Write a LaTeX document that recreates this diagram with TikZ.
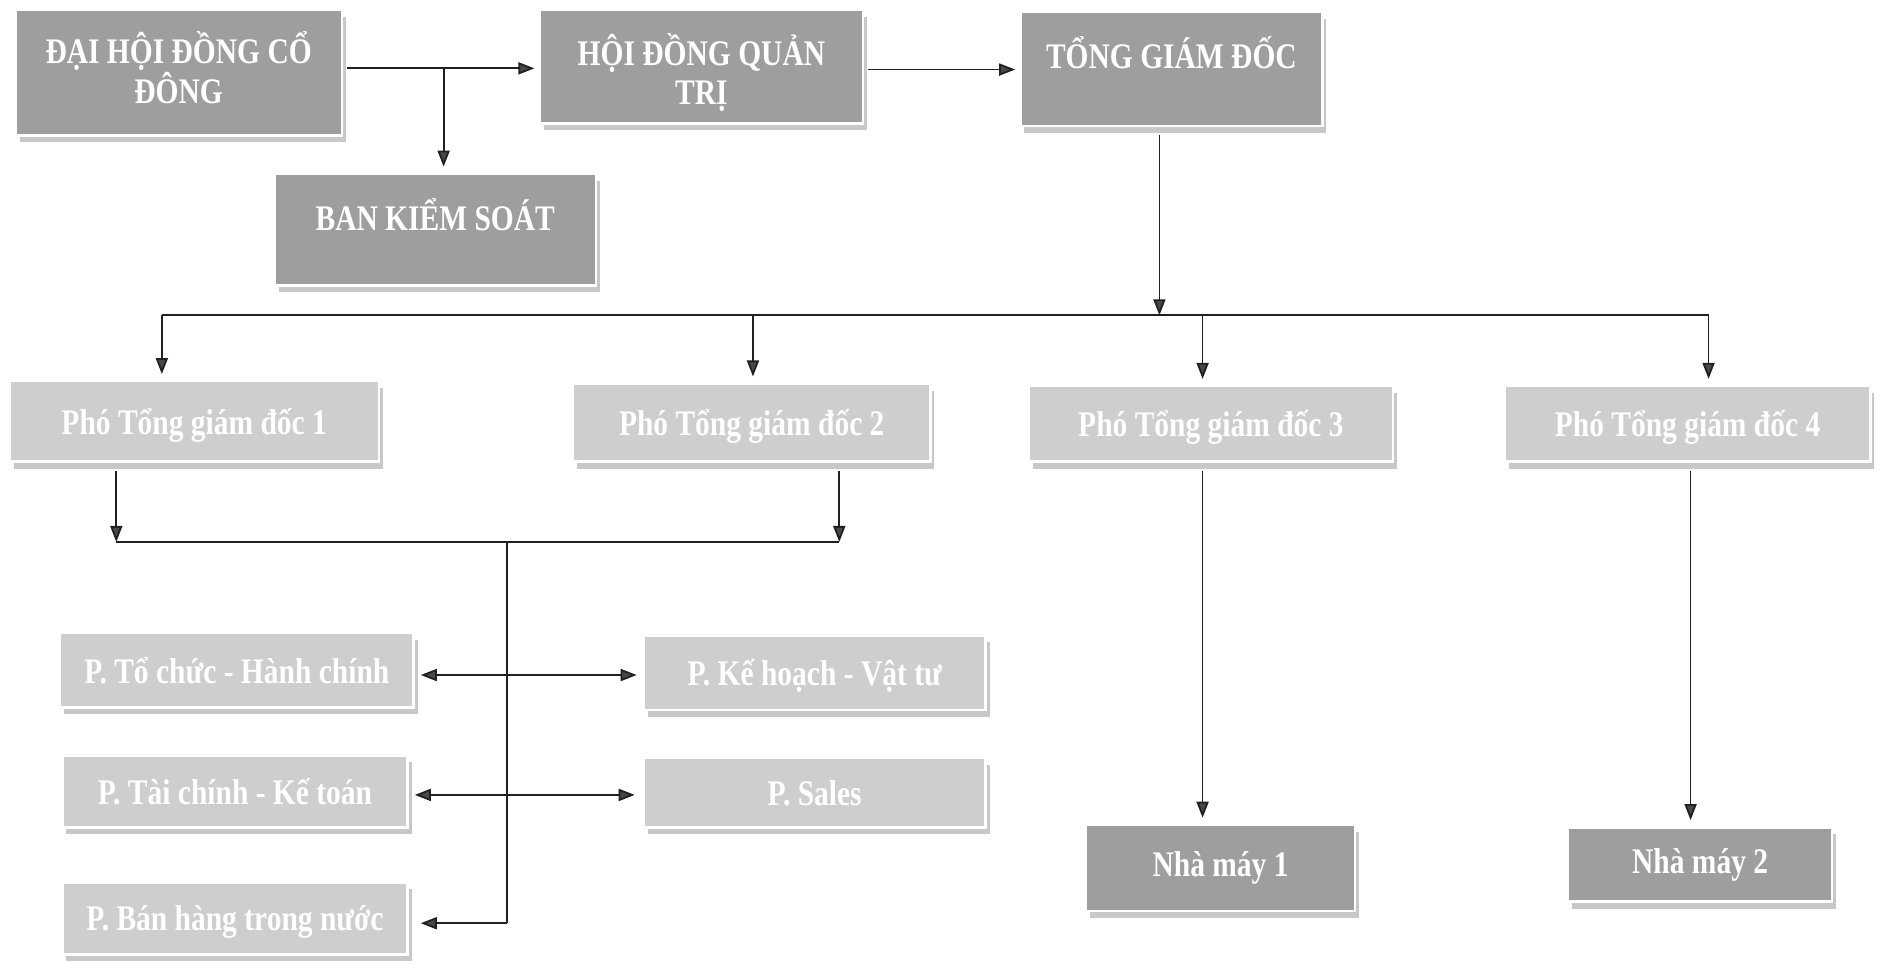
\documentclass[tikz,border=0pt]{standalone}
\usepackage{fontspec}
\setmainfont{Liberation Serif}[FakeStretch=0.82]
\usetikzlibrary{arrows.meta,shadows}
\definecolor{darkbox}{HTML}{9E9E9E}
\definecolor{lightbox}{HTML}{CECECE}
\definecolor{shadowcol}{HTML}{C8C8C8}
\definecolor{tipcol}{HTML}{484848}
\definecolor{linecol}{HTML}{202020}
\begin{document}
\begin{tikzpicture}[x=0.6pt,y=-0.6pt,
  boxbase/.style={rectangle, inner sep=0pt, draw=white, line width=1.2pt, text=white, align=center,
    font=\bfseries\fontsize{18}{20}\selectfont,
    general shadow={fill=shadowcol, shadow xshift=2pt, shadow yshift=-3.5pt}},
  darkb/.style={boxbase, fill=darkbox},
  lightb/.style={boxbase, fill=lightbox, text depth=0pt},
  conn/.style={draw=linecol, line width=0.9pt},
  arr/.style={conn, -{Triangle[length=8pt,width=6pt,fill=tipcol]}},
  darr/.style={conn, {Triangle[length=8pt,width=6pt,fill=tipcol]}-{Triangle[length=8pt,width=6pt,fill=tipcol]}}
]
\useasboundingbox (0,0) rectangle (1568,804);

% top row
\node[darkb, minimum width=163.2pt, minimum height=63pt, text depth=5pt] (dhd) at (149,60.5) {ĐẠI HỘI ĐỒNG CỔ\\ĐÔNG};
\node[darkb, minimum width=162pt, minimum height=57pt] (hdqt) at (585,55.5) {\rule{0pt}{22pt}HỘI ĐỒNG QUẢN\\TRỊ};
\node[darkb, minimum width=151.2pt, minimum height=57pt, text depth=16pt] (tgd) at (977,57.5) {TỔNG GIÁM ĐỐC};
\node[darkb, minimum width=160.8pt, minimum height=55.8pt, text depth=15pt] (bks) at (363,191.5) {BAN KIỂM SOÁT};

% deputies
\node[lightb, minimum width=184.8pt, minimum height=40.2pt] (p1) at (162,351.5) {Phó Tổng giám đốc 1};
\node[lightb, minimum width=178.8pt, minimum height=39pt] (p2) at (627,352.5) {Phó Tổng giám đốc 2};
\node[lightb, minimum width=182.4pt, minimum height=37.8pt] (p3) at (1010,353.5) {Phó Tổng giám đốc 3};
\node[lightb, minimum width=183pt, minimum height=37.8pt] (p4) at (1407.5,353.5) {Phó Tổng giám đốc 4};

% departments
\node[lightb, minimum width=177pt, minimum height=37.2pt] (d1) at (197.5,559) {P. Tổ chức - Hành chính};
\node[lightb, minimum width=171pt, minimum height=37.2pt] (d2) at (679.5,561) {P. Kế hoạch - Vật tư};
\node[lightb, minimum width=172.8pt, minimum height=36pt] (d3) at (196,660) {P. Tài chính - Kế toán};
\node[lightb, minimum width=171pt, minimum height=34.8pt] (d4) at (679.5,661) {P. Sales};
\node[lightb, minimum width=172.8pt, minimum height=36pt] (d5) at (196,766) {P. Bán hàng trong nước};

% factories
\node[darkb, minimum width=134.4pt, minimum height=43.2pt] (n1) at (1018,724) {Nhà máy 1};
\node[darkb, minimum width=132pt, minimum height=37.2pt] (n2) at (1418,721) {Nhà máy 2};

% coordinates
\coordinate (j1) at (370,57);
\coordinate (j2) at (785,58);
\coordinate (tb) at (967,263);
\coordinate (b1) at (135,263);
\coordinate (b2) at (628,263);
\coordinate (b3) at (1003,263);
\coordinate (b4) at (1425,263);
\coordinate (c1) at (97,452);
\coordinate (c2) at (700,452);
\coordinate (cm) at (423,452);
\coordinate (ce) at (423,770);
\coordinate (y1) at (423,563);
\coordinate (y3) at (423,663);
\coordinate (f1) at (1003,500);
\coordinate (f2) at (1410,500);

% connectors
\draw[conn] ([xshift=2pt]dhd.east |- j1) -- (j1);
\draw[arr, shorten >=2pt] (j1) -- (hdqt.west |- j1);
\draw[arr, shorten >=3pt] (j1) -- (j1 |- bks.north);
\draw[arr, shorten >=2pt] ([xshift=2pt]hdqt.east |- j2) -- (tgd.west |- j2);
\draw[arr] ([yshift=-4pt]tb |- tgd.south) -- (tb);
\draw[conn] (b1) -- (b4);
\draw[arr, shorten >=3pt] (b1) -- (b1 |- p1.north);
\draw[arr, shorten >=3pt] (b2) -- (b2 |- p2.north);
\draw[arr, shorten >=3pt] (b3) -- (b3 |- p3.north);
\draw[arr, shorten >=3pt] (b4) -- (b4 |- p4.north);
\draw[arr] ([yshift=-4pt]c1 |- p1.south) -- (c1);
\draw[arr] ([yshift=-4pt]c2 |- p2.south) -- (c2);
\draw[conn] (c1) -- (c2);
\draw[conn] (cm) -- (ce);
\draw[darr, shorten <=3pt, shorten >=3pt] (d1.east |- y1) -- (d2.west |- y1);
\draw[darr, shorten <=3pt, shorten >=4pt] (d3.east |- y3) -- (d4.west |- y3);
\draw[arr, shorten >=6pt] (ce) -- (d5.east |- ce);
\draw[arr, shorten >=3pt] ([yshift=-4pt]f1 |- p3.south) -- (f1 |- n1.north);
\draw[arr, shorten >=3pt] ([yshift=-4pt]f2 |- p4.south) -- (f2 |- n2.north);
\end{tikzpicture}
\end{document}
